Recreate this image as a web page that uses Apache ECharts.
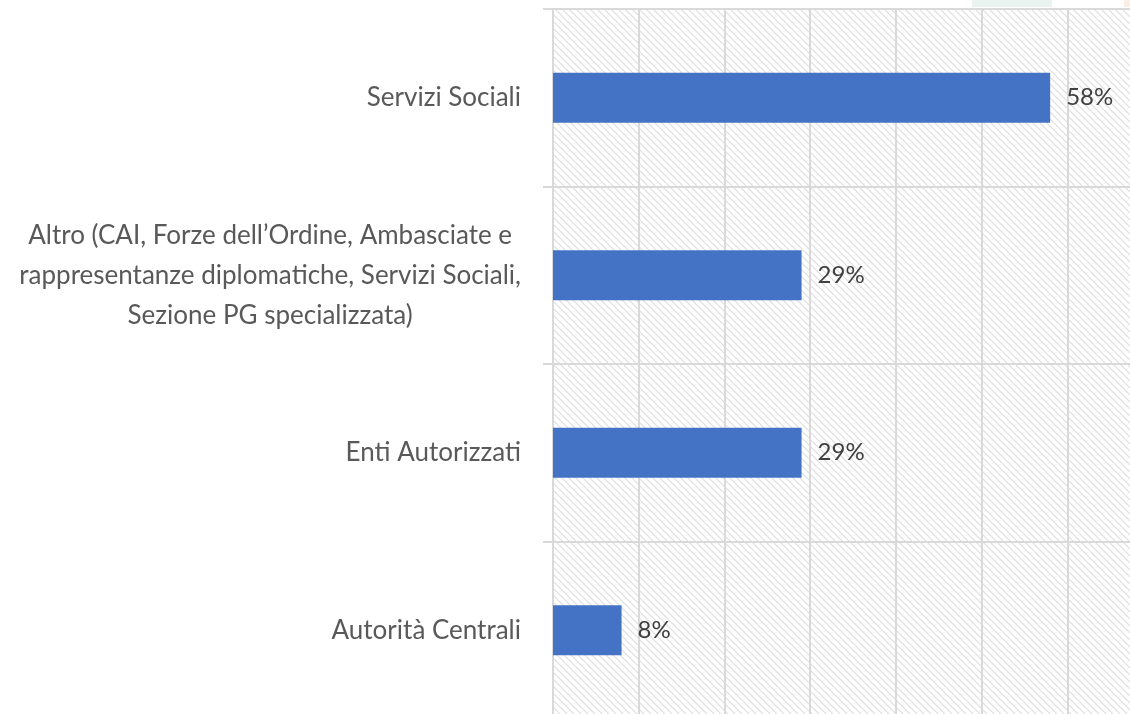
<!DOCTYPE html>
<html>
<head>
<meta charset="utf-8">
<script src="https://cdn.jsdelivr.net/npm/echarts@6/dist/echarts.min.js"></script>
<style>html,body{margin:0;padding:0;background:#fff}#c{width:1130px;height:714px}</style>
</head>
<body>
<div id="c"></div>
<script>
var categories = [
  'Servizi Sociali',
  'Altro (CAI, Forze dell’Ordine, Ambasciate e\nrappresentanze diplomatiche, Servizi Sociali,\nSezione PG specializzata)',
  'Enti Autorizzati',
  'Autorità Centrali'
];
var values = [58, 29, 29, 8];

var tile = document.createElement('canvas');
tile.width = 7; tile.height = 7;
var g = tile.getContext('2d');
g.fillStyle = '#ffffff'; g.fillRect(0, 0, 7, 7);
g.strokeStyle = '#dedede'; g.lineWidth = 1.2;
g.beginPath(); g.moveTo(-1, -1); g.lineTo(8, 8); g.stroke();
g.beginPath(); g.moveTo(-8, -1); g.lineTo(1, 8); g.stroke();
g.beginPath(); g.moveTo(6, -1); g.lineTo(15, 8); g.stroke();

var chart = echarts.init(document.getElementById('c'), null, {renderer: 'canvas'});
chart.setOption({
  animation: false,
  backgroundColor: '#ffffff',
  textStyle: {fontFamily: 'Lato'},
  graphic: [
    {type: 'rect', left: 972, top: 0, shape: {width: 80, height: 7}, style: {fill: '#e9f4f0'}, silent: true},
    {type: 'rect', left: 1124, top: 0, shape: {width: 6, height: 7}, style: {fill: '#fbeee5'}, silent: true}
  ],
  grid: {
    left: 553, top: 9, width: 600, height: 710,
    outerBoundsMode: 'none', containLabel: false,
    show: true, borderWidth: 0,
    backgroundColor: {image: tile, repeat: 'repeat'}
  },
  xAxis: {
    type: 'value', min: 0, max: 70, interval: 10,
    axisLine: {show: false}, axisTick: {show: false}, axisLabel: {show: false},
    splitLine: {show: true, lineStyle: {color: '#d9d9d9', width: 2}}
  },
  yAxis: {
    type: 'category', inverse: true, data: categories,
    axisLine: {show: true, lineStyle: {color: '#d9d9d9', width: 2}},
    axisTick: {show: true, length: 10, lineStyle: {color: '#d9d9d9', width: 2}},
    splitLine: {show: true, lineStyle: {color: '#d9d9d9', width: 2}},
    axisLabel: {
      margin: 32, color: '#595959', fontSize: 26, fontFamily: 'Lato', lineHeight: 40,
      formatter: function (v) { return v.split('\n').map(function (l) { return '{c|' + l + '}'; }).join('\n'); },
      rich: {c: {align: 'center', color: '#595959', fontSize: 26, fontFamily: 'Lato', lineHeight: 40}}
    }
  },
  series: [{
    type: 'bar', data: values, barWidth: 50,
    itemStyle: {color: '#4472c4'},
    label: {show: true, position: 'right', distance: 16, formatter: '{c}%', color: '#404040', fontSize: 24, fontFamily: 'Lato'}
  }]
});
</script>
</body>
</html>
